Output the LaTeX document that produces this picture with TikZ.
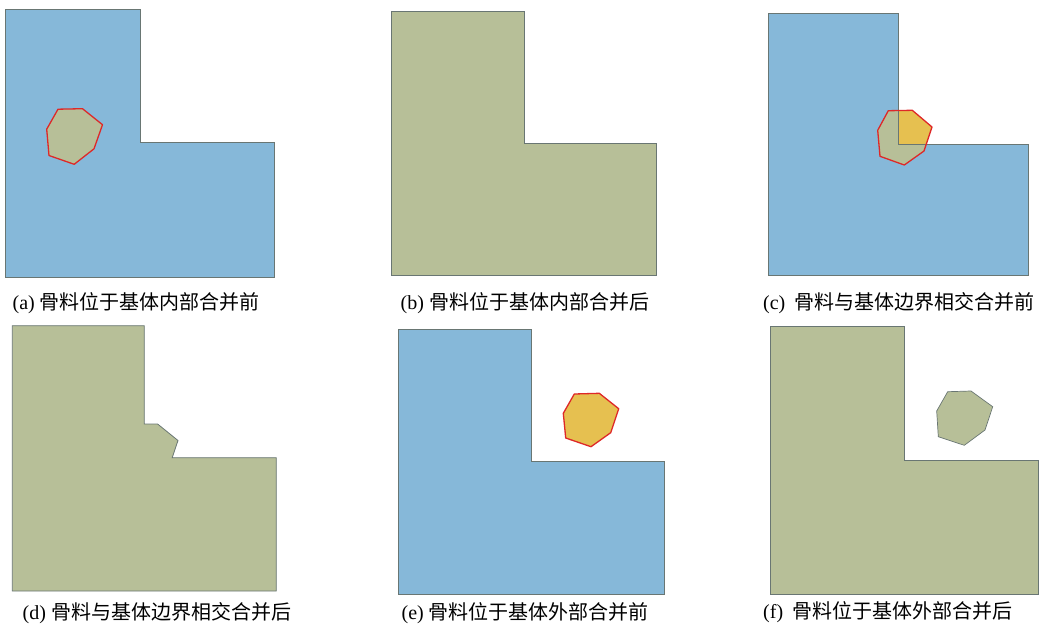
\documentclass[tikz,border=0pt]{standalone}
\usepackage{fontspec}
\setmainfont{Liberation Serif}
\newfontfamily\cjk{Noto Sans CJK SC}
\definecolor{matblue}{RGB}{134,184,217}
\definecolor{aggolive}{RGB}{183,191,152}
\definecolor{agggold}{RGB}{230,192,80}
\definecolor{edgegray}{RGB}{105,118,115}
\definecolor{aggred}{RGB}{222,40,40}
\tikzset{
  matrixL/.style={fill=matblue},
  mergedL/.style={fill=aggolive},
  Ledge/.style={draw=edgegray,line width=0.8pt,line join=miter},
  aggedge/.style={draw=aggred,line width=1.3pt,line join=round},
  captext/.style={anchor=west,inner sep=0pt,font=\fontsize{20}{21}\selectfont}
}
\begin{document}
\begin{tikzpicture}[x=1pt,y=-1pt]
\useasboundingbox (0,0) rectangle (1042,630);
% ---------- (a)
\fill[matrixL] (5.7,9) -- (140,9) -- (140,142.7) -- (274.3,142.7) -- (274.3,277.3) -- (5.7,277.3) -- cycle;
\draw[Ledge] (5.7,9) -- (140,9) -- (140,142.7) -- (274.3,142.7) -- (274.3,277.3) -- (5.7,277.3) -- cycle;
\filldraw[fill=aggolive,aggedge] (58,109.2) -- (82.5,108.7) -- (102.5,124.7) -- (94,148.8) -- (74.2,164.3) -- (49,155.5) -- (46.7,129.2) -- cycle;
\node[captext] (capa) at (12.5,303) {(a) {\cjk 骨料位于基体内部合并前}};
% ---------- (b)
\fill[mergedL] (391.3,11.3) -- (524,11.3) -- (524,143.3) -- (656.3,143.3) -- (656.3,275.3) -- (391.3,275.3) -- cycle;
\draw[Ledge] (391.3,11.3) -- (524,11.3) -- (524,143.3) -- (656.3,143.3) -- (656.3,275.3) -- (391.3,275.3) -- cycle;
\node[captext] (capb) at (400.5,303) {(b) {\cjk 骨料位于基体内部合并后}};
% ---------- (c)
\fill[matrixL] (768.3,13.3) -- (898.7,13.3) -- (898.7,144.3) -- (1028.7,144.3) -- (1028.7,275.3) -- (768.3,275.3) -- cycle;
\fill[agggold] (888.3,110.7) -- (912.3,110.3) -- (932,127) -- (924,151) -- (904.3,165) -- (880,156.3) -- (877.7,130.3) -- cycle;
\begin{scope}
\clip (768.3,13.3) -- (898.7,13.3) -- (898.7,144.3) -- (1028.7,144.3) -- (1028.7,275.3) -- (768.3,275.3) -- cycle;
\fill[aggolive] (888.3,110.7) -- (912.3,110.3) -- (932,127) -- (924,151) -- (904.3,165) -- (880,156.3) -- (877.7,130.3) -- cycle;
\end{scope}
\draw[Ledge] (768.3,13.3) -- (898.7,13.3) -- (898.7,144.3) -- (1028.7,144.3) -- (1028.7,275.3) -- (768.3,275.3) -- cycle;
\draw[aggedge] (888.3,110.7) -- (912.3,110.3) -- (932,127) -- (924,151) -- (904.3,165) -- (880,156.3) -- (877.7,130.3) -- cycle;
\node[captext] (capc) at (763,303) {(c)\hspace{0.45em}{\cjk 骨料与基体边界相交合并前}};
% ---------- (d)
\filldraw[mergedL,Ledge] (12.3,325.7) -- (144.3,325.7) -- (144.3,424) -- (157.6,424) -- (178,440.5) -- (172.2,457.7) -- (276.3,457.7) -- (276.3,591) -- (12.3,591) -- cycle;
\node[captext] (capd) at (22.5,613) {(d) {\cjk 骨料与基体边界相交合并后}};
% ---------- (e)
\filldraw[matrixL,Ledge] (398.3,329) -- (531.7,329) -- (531.7,461.3) -- (664.3,461.3) -- (664.3,594.7) -- (398.3,594.7) -- cycle;
\filldraw[fill=agggold,aggedge] (574.3,394) -- (599.3,393.3) -- (618.7,408.7) -- (610.7,432.7) -- (591,446.7) -- (565.7,438) -- (563.3,413.3) -- cycle;
\node[captext] (cape) at (401.5,613) {(e) {\cjk 骨料位于基体外部合并前}};
% ---------- (f)
\filldraw[mergedL,Ledge] (770,326.7) -- (904.3,326.7) -- (904.3,460.3) -- (1038.7,460.3) -- (1038.7,594) -- (770,594) -- cycle;
\filldraw[fill=aggolive,draw=edgegray,line width=0.7pt] (947.7,391.7) -- (971,391) -- (992.7,406.7) -- (985,430) -- (964.3,445.3) -- (938.3,436.7) -- (936.7,411) -- cycle;
\node[captext] (capf) at (763,612) {(f)\hspace{0.45em}{\cjk 骨料位于基体外部合并后}};
\end{tikzpicture}
\end{document}
